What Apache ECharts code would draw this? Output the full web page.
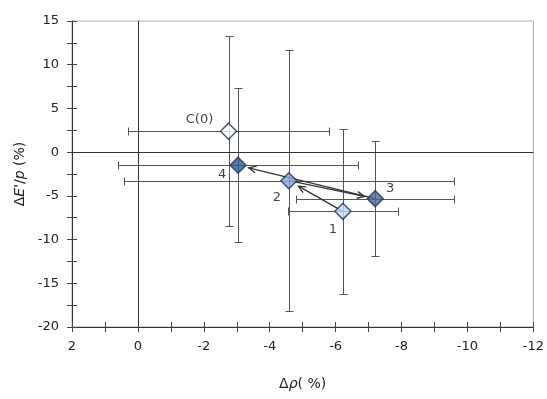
<!DOCTYPE html>
<html><head><meta charset="utf-8">
<script src="https://cdn.jsdelivr.net/npm/echarts@6/dist/echarts.min.js"></script>
<style>html,body{margin:0;padding:0;background:#fff}#c{width:547px;height:399px}</style>
</head><body><div id="c"></div>
<script>
// ---- data ----
const pointNames = ['C(0)', '1', '2', '3', '4'];
const deltaRho   = [-2.75, -6.22, -4.58, -7.2, -3.04];   // Δρ (%)
const deltaE     = [2.4, -6.77, -3.27, -5.32, -1.49];    // ΔE'/p (%)
const rhoErr     = [3.05, 1.67, 5.0, 2.4, 3.63];
const eErr       = [10.9, 9.4, 14.9, 6.55, 8.8];
const arrowFrom  = [1, 2, 3];
const arrowTo    = [2, 3, 4];

// ---- styles ----
const fills = ['#ffffff', '#bcdaf2', '#86a8dc', '#4d6b93', '#2d5a98'];
const labelOffsets = [[-29, -12], [-10, 18], [-12, 17], [15, -10], [-16, 9]];
const FONT = 'DejaVu Sans';

const chart = echarts.init(document.getElementById('c'));

const baseX = {
  type: 'value', min: -12, max: 2, interval: 2, inverse: true,
  splitLine: { show: false },
  axisLine: { onZero: false, lineStyle: { color: '#333', width: 1 } },
  minorTick: { show: true, splitNumber: 2, length: 5, lineStyle: { color: '#444' } },
  axisTick: { length: 5, lineStyle: { color: '#444' } }
};
const baseY = {
  type: 'value', min: -20, max: 15, interval: 5,
  splitLine: { show: false },
  axisLine: { onZero: false, lineStyle: { color: '#333', width: 1 } },
  minorTick: { show: true, splitNumber: 2, length: 5, lineStyle: { color: '#444' } },
  axisTick: { length: 5, lineStyle: { color: '#444' } }
};

const errData = deltaRho.map((x, i) => [x, deltaE[i], rhoErr[i], eErr[i]]);
const arrowData = arrowFrom.map((f, i) => [deltaRho[f], deltaE[f], deltaRho[arrowTo[i]], deltaE[arrowTo[i]]]);

function px(v) { return Math.round(v) + 0.5; }

chart.setOption({
  animation: false,
  backgroundColor: '#fff',
  grid: { left: 72, right: 13, top: 21, bottom: 72, show: true, borderColor: '#aaa', borderWidth: 1 },
  xAxis: [
    Object.assign({}, baseX, {
      position: 'bottom',
      name: '{d|Δ}{i|ρ}{d|( %)}', nameLocation: 'middle', nameGap: 50,
      nameTextStyle: { rich: {
        d: { fontFamily: FONT, fontSize: 14, color: '#222' },
        i: { fontFamily: FONT, fontSize: 14, color: '#222', fontStyle: 'italic' } } },
      axisLabel: { fontFamily: FONT, fontSize: 13, color: '#222', margin: 13 }
    }),
    Object.assign({}, baseX, {
      position: 'bottom', axisLine: { show: false, onZero: false },
      axisTick: { inside: true, length: 5, lineStyle: { color: '#444' } },
      axisLabel: { show: false }
    })
  ],
  yAxis: [
    Object.assign({}, baseY, {
      position: 'left',
      name: "{d|Δ}{i|E'}{d|/}{i|p}{d| (%)}", nameLocation: 'middle', nameGap: 40, nameRotate: 90,
      nameTextStyle: { rich: {
        d: { fontFamily: FONT, fontSize: 14, color: '#222' },
        i: { fontFamily: FONT, fontSize: 14, color: '#222', fontStyle: 'italic' } } },
      axisLabel: { fontFamily: FONT, fontSize: 13, color: '#222', margin: 13 }
    }),
    Object.assign({}, baseY, {
      position: 'left', axisLine: { show: false, onZero: false },
      axisTick: { inside: true, length: 5, lineStyle: { color: '#444' } },
      axisLabel: { show: false }
    })
  ],
  series: [
    {
      type: 'custom', name: 'errors', z: 2,
      data: errData,
      renderItem(params, api) {
        const x = api.value(0), y = api.value(1), ex = api.value(2), ey = api.value(3);
        const l = api.coord([x + ex, y]), r = api.coord([x - ex, y]);
        const t = api.coord([x, y + ey]), b = api.coord([x, y - ey]);
        const c = 4;
        const style = { stroke: '#555', lineWidth: 1 };
        const yy = px(l[1]), xx = px(t[0]);
        const mk = (x1, y1, x2, y2) => ({ type: 'line', shape: { x1, y1, x2, y2 }, style });
        return { type: 'group', children: [
          mk(px(l[0]), yy, px(r[0]), yy),
          mk(px(l[0]), yy - c, px(l[0]), yy + c),
          mk(px(r[0]), yy - c, px(r[0]), yy + c),
          mk(xx, px(t[1]), xx, px(b[1])),
          mk(xx - c, px(t[1]), xx + c, px(t[1])),
          mk(xx - c, px(b[1]), xx + c, px(b[1]))
        ] };
      }
    },
    {
      type: 'custom', name: 'arrows', z: 3,
      data: arrowData,
      renderItem(params, api) {
        const p1 = api.coord([api.value(0), api.value(1)]);
        const p2 = api.coord([api.value(2), api.value(3)]);
        const dx = p2[0] - p1[0], dy = p2[1] - p1[1];
        const len = Math.hypot(dx, dy);
        const ux = dx / len, uy = dy / len;
        const gap = 11;
        const ex = p2[0] - ux * gap, ey = p2[1] - uy * gap;
        const hl = 8, ang = 25 * Math.PI / 180;
        const rot = (a) => [-(ux * Math.cos(a) - uy * Math.sin(a)), -(ux * Math.sin(a) + uy * Math.cos(a))];
        const h1 = rot(ang), h2 = rot(-ang);
        const style = { stroke: '#333', lineWidth: 1.3, fill: null };
        return { type: 'group', children: [
          { type: 'line', shape: { x1: p1[0], y1: p1[1], x2: ex, y2: ey }, style },
          { type: 'polyline', shape: { points: [[ex + h1[0] * hl, ey + h1[1] * hl], [ex, ey], [ex + h2[0] * hl, ey + h2[1] * hl]] }, style }
        ] };
      }
    },
    {
      type: 'scatter', name: 'points', z: 5,
      symbol: 'diamond', symbolSize: 16,
      data: deltaRho.map((x, i) => ({
        value: [x, deltaE[i]],
        itemStyle: { color: fills[i], borderColor: '#1e3358', borderWidth: 1.5 },
        label: { show: true, formatter: pointNames[i], position: 'inside', offset: labelOffsets[i],
                 fontFamily: FONT, fontSize: 13, color: '#111' }
      })),
      markLine: {
        silent: true, symbol: 'none', label: { show: false },
        lineStyle: { color: '#333', type: 'solid', width: 1 },
        data: [{ xAxis: 0 }, { yAxis: 0 }]
      }
    }
  ]
});
</script>
</body></html>
